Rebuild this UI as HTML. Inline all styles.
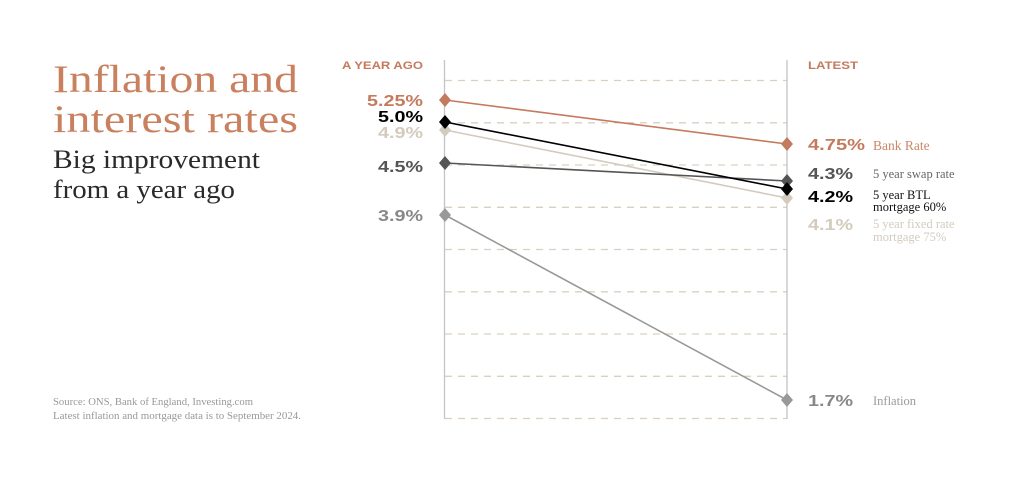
<!DOCTYPE html>
<html><head><meta charset="utf-8"><style>
html,body{margin:0;padding:0;background:#fff;}
svg{display:block;}
.s{font-family:"Liberation Sans",sans-serif;font-weight:bold;}
.f{font-family:"Liberation Serif",serif;}
</style></head><body>
<svg width="1024" height="481" viewBox="0 0 1024 481" xmlns="http://www.w3.org/2000/svg">
<rect width="1024" height="481" fill="#fff"/>
<text class="f" x="53" y="92" font-size="39" fill="#c8805f" textLength="245" lengthAdjust="spacingAndGlyphs">Inflation and</text>
<text class="f" x="53" y="132" font-size="39" fill="#c8805f" textLength="245" lengthAdjust="spacingAndGlyphs">interest rates</text>
<text class="f" x="53" y="168" font-size="26" fill="#2a2a2a" textLength="207" lengthAdjust="spacingAndGlyphs">Big improvement</text>
<text class="f" x="53" y="198" font-size="26" fill="#2a2a2a" textLength="182" lengthAdjust="spacingAndGlyphs">from a year ago</text>
<text class="f" x="53" y="405" font-size="10" fill="#999" textLength="200" lengthAdjust="spacingAndGlyphs">Source: ONS, Bank of England, Investing.com</text>
<text class="f" x="53" y="419" font-size="10" fill="#999" textLength="248" lengthAdjust="spacingAndGlyphs">Latest inflation and mortgage data is to September 2024.</text>

<g stroke="#d9d0c0" stroke-width="1.3" stroke-dasharray="7,6">
<line x1="445" y1="80.5" x2="787" y2="80.5"/>
<line x1="445" y1="122.8" x2="787" y2="122.8"/>
<line x1="445" y1="165" x2="787" y2="165"/>
<line x1="445" y1="207.3" x2="787" y2="207.3"/>
<line x1="445" y1="249.5" x2="787" y2="249.5"/>
<line x1="445" y1="291.8" x2="787" y2="291.8"/>
<line x1="445" y1="334" x2="787" y2="334"/>
<line x1="445" y1="376.3" x2="787" y2="376.3"/>
<line x1="445" y1="418.5" x2="787" y2="418.5"/>
</g>
<line x1="444.5" y1="60" x2="444.5" y2="419" stroke="#c4c4c4" stroke-width="1.3"/>
<line x1="787" y1="60" x2="787" y2="419" stroke="#c4c4c4" stroke-width="1.3"/>

<text class="s" x="423" y="69" font-size="11" fill="#c47a5c" text-anchor="end" textLength="81" lengthAdjust="spacingAndGlyphs">A YEAR AGO</text>
<text class="s" x="808" y="69" font-size="11" fill="#c47a5c" textLength="50" lengthAdjust="spacingAndGlyphs">LATEST</text>

<g stroke-width="1.6" fill="none">
<line x1="445" y1="100" x2="787" y2="144" stroke="#c47a5c"/>
<line x1="445" y1="130" x2="787" y2="198" stroke="#d3cbbd"/>
<line x1="445" y1="163" x2="787" y2="181" stroke="#555"/>
<line x1="445" y1="122" x2="787" y2="189" stroke="#000"/>
<line x1="445" y1="215" x2="787" y2="400" stroke="#999"/>
</g>
<g>
<path d="M445 93l6 7-6 7-6-7z" fill="#c47a5c"/>
<path d="M445 123l6 7-6 7-6-7z" fill="#d3cbbd"/>
<path d="M445 115l6 7-6 7-6-7z" fill="#000"/>
<path d="M445 156l6 7-6 7-6-7z" fill="#555"/>
<path d="M445 208l6 7-6 7-6-7z" fill="#999"/>
<path d="M787 137l6 7-6 7-6-7z" fill="#c47a5c"/>
<path d="M787 174l6 7-6 7-6-7z" fill="#555"/>
<path d="M787 191l6 7-6 7-6-7z" fill="#d3cbbd"/>
<path d="M787 182l6 7-6 7-6-7z" fill="#000"/>
<path d="M787 393l6 7-6 7-6-7z" fill="#999"/>
</g>

<g class="s" font-size="16" text-anchor="end" lengthAdjust="spacingAndGlyphs">
<text x="423" y="106" fill="#c47a5c" textLength="56" lengthAdjust="spacingAndGlyphs">5.25%</text>
<text x="423" y="122" fill="#000" textLength="45" lengthAdjust="spacingAndGlyphs">5.0%</text>
<text x="423" y="138" fill="#d3cbbd" textLength="45" lengthAdjust="spacingAndGlyphs">4.9%</text>
<text x="423" y="172" fill="#555" textLength="45" lengthAdjust="spacingAndGlyphs">4.5%</text>
<text x="423" y="221" fill="#888" textLength="45" lengthAdjust="spacingAndGlyphs">3.9%</text>
</g>
<g class="s" font-size="16">
<text x="808" y="150" fill="#c47a5c" textLength="57" lengthAdjust="spacingAndGlyphs">4.75%</text>
<text x="808" y="179" fill="#555" textLength="45" lengthAdjust="spacingAndGlyphs">4.3%</text>
<text x="808" y="202" fill="#000" textLength="45" lengthAdjust="spacingAndGlyphs">4.2%</text>
<text x="808" y="230" fill="#d3cbbd" textLength="45" lengthAdjust="spacingAndGlyphs">4.1%</text>
<text x="808" y="406" fill="#888" textLength="45" lengthAdjust="spacingAndGlyphs">1.7%</text>
</g>
<g class="f" font-size="12.5">
<text x="873" y="150" fill="#c9886a" font-size="13.5">Bank Rate</text>
<text x="873" y="178" fill="#666">5 year swap rate</text>
<text x="873" y="199" fill="#111">5 year BTL</text>
<text x="873" y="211" fill="#111">mortgage 60%</text>
<text x="873" y="228" fill="#d3cbbd">5 year fixed rate</text>
<text x="873" y="241" fill="#d3cbbd">mortgage 75%</text>
<text x="873" y="405" fill="#999">Inflation</text>
</g>
</svg>
</body></html>
